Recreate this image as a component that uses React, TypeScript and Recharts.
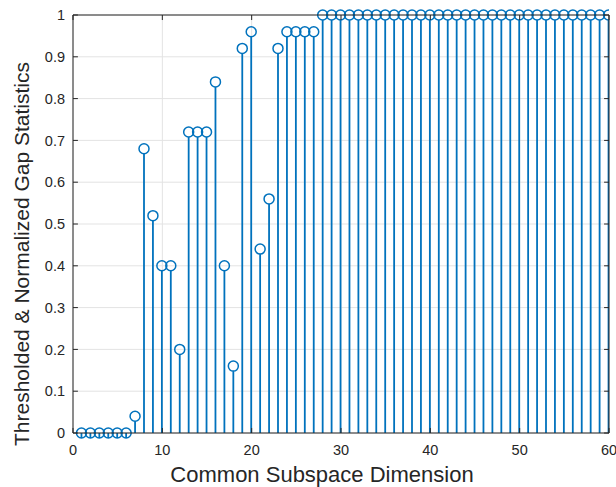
import React from 'react';
import { ComposedChart, Bar, XAxis, YAxis, CartesianGrid, ReferenceLine, Label } from 'recharts';

const dimensions = [
  1, 2, 3, 4, 5, 6, 7, 8, 9, 10,
  11, 12, 13, 14, 15, 16, 17, 18, 19, 20,
  21, 22, 23, 24, 25, 26, 27, 28, 29, 30,
  31, 32, 33, 34, 35, 36, 37, 38, 39, 40,
  41, 42, 43, 44, 45, 46, 47, 48, 49, 50,
  51, 52, 53, 54, 55, 56, 57, 58, 59, 60,
];
const gapStats = [
  0, 0, 0, 0, 0, 0, 0.04, 0.68, 0.52, 0.4,
  0.4, 0.2, 0.72, 0.72, 0.72, 0.84, 0.4, 0.16, 0.92, 0.96,
  0.44, 0.56, 0.92, 0.96, 0.96, 0.96, 0.96, 1, 1, 1,
  1, 1, 1, 1, 1, 1, 1, 1, 1, 1,
  1, 1, 1, 1, 1, 1, 1, 1, 1, 1,
  1, 1, 1, 1, 1, 1, 1, 1, 1, 1,
];
const xTicks = [0, 10, 20, 30, 40, 50, 60];
const yTicks = [0, 0.1, 0.2, 0.3, 0.4, 0.5, 0.6, 0.7, 0.8, 0.9, 1];
const xLabel = 'Common Subspace Dimension';
const yLabel = 'Thresholded & Normalized Gap Statistics';

const data = dimensions.map((d, i) => ({ dim: d, value: gapStats[i] }));

const BLUE = '#0072BD';
const AXIS = '#262626';
const FONT = '"Liberation Sans", Arial, Helvetica, sans-serif';

const Stem = (props: any) => {
  const { x, y, width, height } = props;
  const cx = x + width / 2;
  return (
    <g>
      <line x1={cx} y1={y + height} x2={cx} y2={y + 5} stroke={BLUE} strokeWidth={1.8} />
      <circle cx={cx} cy={y} r={5} fill="none" stroke={BLUE} strokeWidth={1.5} />
    </g>
  );
};

const xTickLen = 0.55;
const yTickLen = 0.012;

export default function App() {
  return (
    <div style={{ position: 'absolute', left: 0, top: 0, width: 616, height: 487, background: '#fff' }}>
      <ComposedChart
        width={616}
        height={487}
        data={data}
        margin={{ top: 15, right: 7, bottom: 0, left: 0 }}
        style={{ fontFamily: FONT }}
      >
        <CartesianGrid stroke="#e3e3e3" strokeWidth={1} horizontalValues={yTicks} verticalValues={xTicks} />
        <XAxis
          dataKey="dim"
          type="number"
          domain={[0, 60]}
          ticks={xTicks}
          interval={0}
          allowDataOverflow
          height={54}
          tickSize={0}
          tickMargin={12}
          tickLine={false}
          axisLine={{ stroke: AXIS, strokeWidth: 1 }}
          tick={{ fill: AXIS, fontSize: 14.5, fontFamily: FONT }}
        >
          <Label
            content={() => (
              <text x={322} y={482} textAnchor="middle" fill={AXIS} fontSize={22} fontFamily={FONT}>
                {xLabel}
              </text>
            )}
          />
        </XAxis>
        <YAxis
          type="number"
          domain={[0, 1]}
          ticks={yTicks}
          interval={0}
          width={73}
          tickSize={0}
          tickMargin={8}
          tickLine={false}
          axisLine={{ stroke: AXIS, strokeWidth: 1 }}
          tick={{ fill: AXIS, fontSize: 14.5, fontFamily: FONT }}
        >
          <Label
            content={() => (
              <text
                x={29}
                y={254}
                textAnchor="middle"
                fill={AXIS}
                fontSize={21}
                fontFamily={FONT}
                transform="rotate(-90, 29, 254)"
              >
                {yLabel}
              </text>
            )}
          />
        </YAxis>
        <ReferenceLine y={1} stroke={AXIS} strokeWidth={1} />
        <ReferenceLine x={60} stroke={AXIS} strokeWidth={1} />
        {xTicks.map((t) => (
          <ReferenceLine key={'xb' + t} segment={[{ x: t, y: 0 }, { x: t, y: yTickLen }]} stroke={AXIS} />
        ))}
        {xTicks.map((t) => (
          <ReferenceLine key={'xt' + t} segment={[{ x: t, y: 1 }, { x: t, y: 1 - yTickLen }]} stroke={AXIS} />
        ))}
        {yTicks.map((t) => (
          <ReferenceLine key={'yl' + t} segment={[{ x: 0, y: t }, { x: xTickLen, y: t }]} stroke={AXIS} />
        ))}
        {yTicks.map((t) => (
          <ReferenceLine key={'yr' + t} segment={[{ x: 60, y: t }, { x: 60 - xTickLen, y: t }]} stroke={AXIS} />
        ))}
        <Bar dataKey="value" barSize={2} shape={<Stem />} isAnimationActive={false} minPointSize={0} />
      </ComposedChart>
    </div>
  );
}
